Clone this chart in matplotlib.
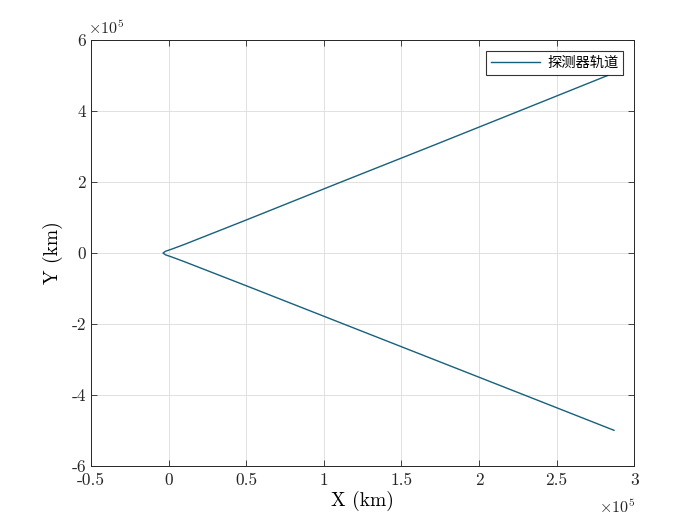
import numpy as np
import matplotlib
matplotlib.use('Agg')
import matplotlib.pyplot as plt
from matplotlib.ticker import FuncFormatter

plt.rcParams['font.family'] = ['cmr10', 'Noto Sans CJK SC', 'DejaVu Sans']
plt.rcParams['mathtext.fontset'] = 'cm'
plt.rcParams['axes.unicode_minus'] = False

# probe trajectory points (km)
x_km = np.array([2.87, 2.3, 1.7, 1.1, 0.5, 0.1, 0.02, -0.02, -0.036,
                 -0.02, 0.02, 0.1, 0.5, 1.1, 1.7, 2.3, 2.83]) * 1e5
y_km = np.array([-4.99, -4.01, -2.98, -1.95, -0.92, -0.24, -0.11, -0.05, 0.0,
                 0.05, 0.11, 0.24, 0.93, 1.98, 3.02, 4.07, 5.0]) * 1e5

xticks = np.array([-0.5, 0, 0.5, 1, 1.5, 2, 2.5, 3]) * 1e5
yticks = np.array([-6, -4, -2, 0, 2, 4, 6]) * 1e5

fig = plt.figure(figsize=(7, 5.25), dpi=100)
ax = fig.add_axes([0.13, 0.112, 0.776, 0.812])

ax.plot(x_km, y_km, color='#17607c', linewidth=1.0, label='探测器轨道')

ax.set_xlim(-0.5e5, 3e5)
ax.set_ylim(-6e5, 6e5)
ax.set_xticks(xticks)
ax.set_yticks(yticks)
fmt = FuncFormatter(lambda v, p: '%g' % round(v / 1e5, 2))
ax.xaxis.set_major_formatter(fmt)
ax.yaxis.set_major_formatter(fmt)
ax.tick_params(direction='in', length=4, width=0.6, top=True, right=True,
               labelsize=12.5, colors='#262626', labelcolor='#262626')
ax.tick_params(axis='x', pad=5)
ax.grid(True, color='#dcdcdc', linewidth=0.6)
ax.set_axisbelow(True)
for s in ax.spines.values():
    s.set_linewidth(0.7)
    s.set_color('#262626')

ax.set_xlabel('X (km)', fontsize=14, labelpad=2)
ax.set_ylabel('Y (km)', fontsize=14, labelpad=6)

ax.text(-0.005, 1.006, r'$\times 10^{5}$', transform=ax.transAxes,
        fontsize=11.5, ha='left', va='bottom', color='#262626')
ax.text(0.935, -0.075, r'$\times 10^{5}$', transform=ax.transAxes,
        fontsize=11.5, ha='left', va='top', color='#262626')

leg = ax.legend(loc='upper right', frameon=True, fancybox=False,
                borderaxespad=0.75, handlelength=3.4, handletextpad=0.5,
                borderpad=0.35,
                prop={'family': ['Noto Sans CJK SC'], 'size': 10.3})
leg.get_frame().set_edgecolor('black')
leg.get_frame().set_linewidth(0.8)

fig.savefig('out.png', dpi=100)
